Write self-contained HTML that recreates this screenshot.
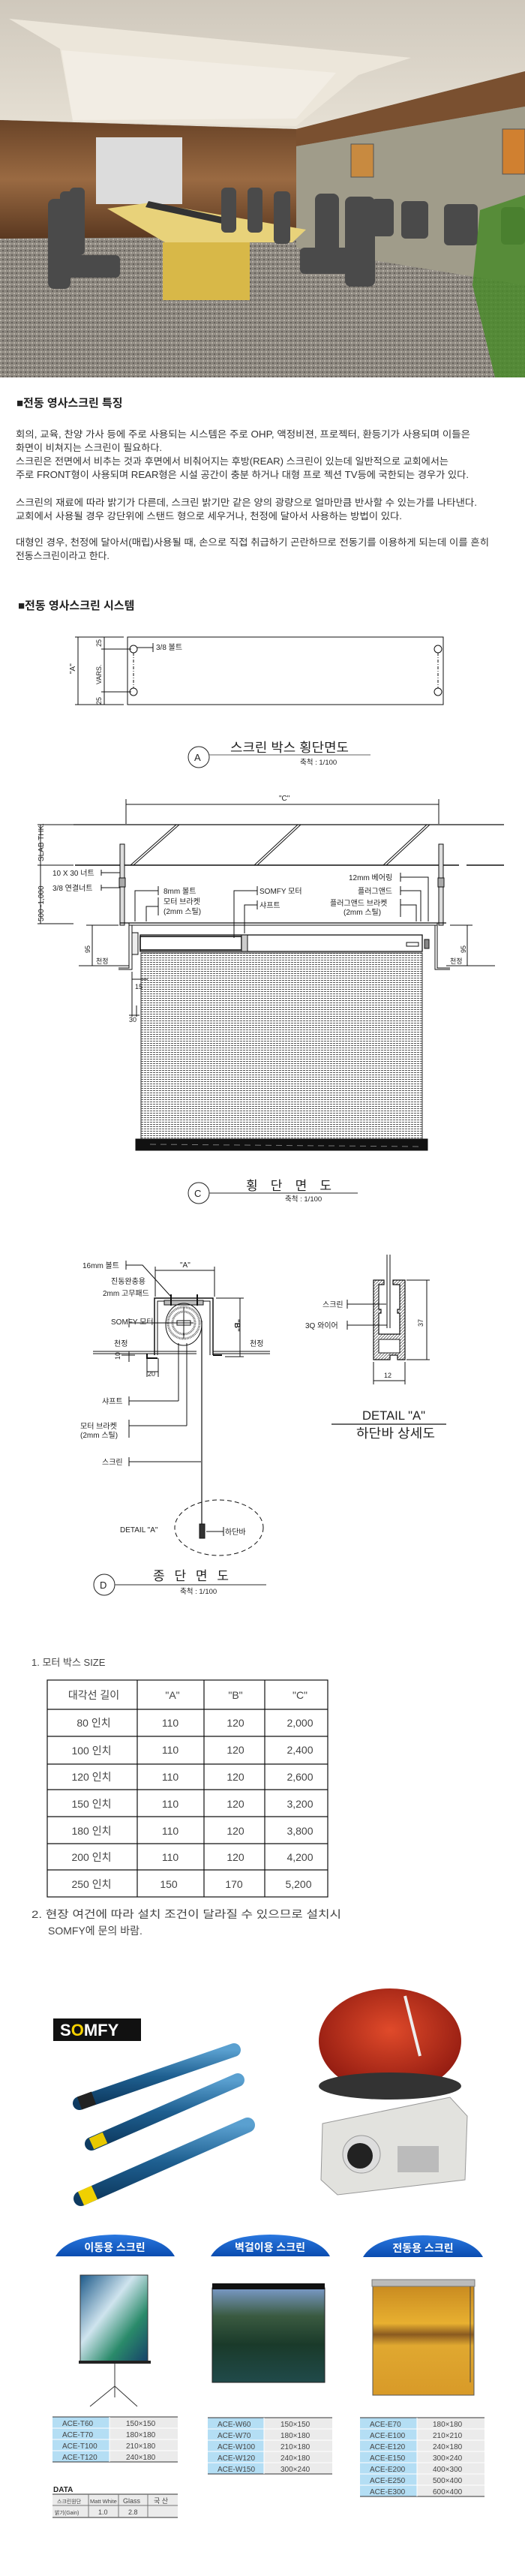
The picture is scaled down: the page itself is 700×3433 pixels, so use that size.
<!DOCTYPE html>
<html><head><meta charset="utf-8">
<style>
html,body{margin:0;padding:0;background:#fff;}
svg{display:block;}
text{font-family:"Liberation Sans","Noto Sans CJK KR",sans-serif;}
</style></head>
<body>
<svg width="700" height="3433" viewBox="0 0 700 3433" xmlns="http://www.w3.org/2000/svg">
<defs>
<pattern id="hatch" width="4" height="3" patternUnits="userSpaceOnUse">
<rect width="4" height="3" fill="#fff"/><line x1="0" y1="1.5" x2="3" y2="1.5" stroke="#555" stroke-width="1"/>
</pattern>
<pattern id="diag" width="4" height="4" patternUnits="userSpaceOnUse">
<rect width="4" height="4" fill="#fff"/><line x1="0" y1="4" x2="4" y2="0" stroke="#555" stroke-width="0.8"/>
</pattern>
<pattern id="speck" width="6" height="6" patternUnits="userSpaceOnUse">
<rect width="6" height="6" fill="#8c877f"/><circle cx="1" cy="1" r="1" fill="#c8c2b8"/><circle cx="4" cy="4" r="1" fill="#5a5550"/><circle cx="4" cy="1" r=".7" fill="#b0aaa0"/>
</pattern>
<linearGradient id="ceil" x1="0" y1="0" x2="0" y2="1"><stop offset="0" stop-color="#cfc8bc"/><stop offset="1" stop-color="#e6e0d4"/></linearGradient>
<linearGradient id="wood" x1="0" y1="0" x2="0" y2="1"><stop offset="0" stop-color="#6a4428"/><stop offset=".5" stop-color="#9a6a42"/><stop offset="1" stop-color="#5a3820"/></linearGradient>
<linearGradient id="tab" x1="0" y1="0" x2="0" y2="1"><stop offset="0" stop-color="#2a78e0"/><stop offset="1" stop-color="#0a4cb0"/></linearGradient>
<linearGradient id="wave" x1="0" y1="0" x2="1" y2="1"><stop offset="0" stop-color="#1d5a8a"/><stop offset=".4" stop-color="#cfe4ee"/><stop offset=".7" stop-color="#2a8a6a"/><stop offset="1" stop-color="#16406a"/></linearGradient>
<linearGradient id="sea" x1="0" y1="0" x2="0" y2="1"><stop offset="0" stop-color="#7a9ac8"/><stop offset=".3" stop-color="#3a5a40"/><stop offset=".6" stop-color="#1a3a2a"/><stop offset="1" stop-color="#204a4a"/></linearGradient>
<linearGradient id="field" x1="0" y1="0" x2="0" y2="1"><stop offset="0" stop-color="#c88a20"/><stop offset=".35" stop-color="#e8b030"/><stop offset=".45" stop-color="#8a5a20"/><stop offset=".55" stop-color="#e0a830"/><stop offset="1" stop-color="#d89a28"/></linearGradient>
<linearGradient id="tube" x1="0" y1="0" x2="0" y2="1"><stop offset="0" stop-color="#5aa0d0"/><stop offset=".5" stop-color="#1e5f90"/><stop offset="1" stop-color="#0e3a60"/></linearGradient>
<radialGradient id="red" cx=".5" cy=".4" r=".6"><stop offset="0" stop-color="#e04a2a"/><stop offset="1" stop-color="#901a10"/></radialGradient>
</defs>

<!-- PHOTO -->
<rect x="0" y="0" width="700" height="503" fill="url(#speck)"/>
<polygon points="0,0 700,0 700,95 395,172 0,160" fill="url(#ceil)"/>
<polygon points="12,25 548,77 478,100 395,168 97,162 80,65" fill="#ece6da"/>
<polygon points="82,67 448,97 395,158 97,160" fill="#f2ede4"/>
<polygon points="0,160 395,172 395,315 0,318" fill="url(#wood)"/>
<polygon points="395,172 700,95 700,142 395,195" fill="#7a5030"/>
<polygon points="395,195 700,142 700,380 395,330" fill="#a09c8a"/>
<rect x="128" y="183" width="115" height="89" fill="#dcdcdc"/>
<rect x="468" y="192" width="30" height="44" fill="#c88a40" stroke="#555"/>
<rect x="670" y="172" width="30" height="60" fill="#d08030" stroke="#555"/>
<polygon points="143,278 200,270 408,306 390,323 220,323" fill="#e8d27a"/>
<rect x="217" y="323" width="116" height="77" fill="#d8b848"/>
<polygon points="198,268 300,290 296,298 194,276" fill="#333"/>
<g fill="#4a4a4a">
<rect x="64" y="265" width="30" height="120" rx="8"/><rect x="70" y="340" width="90" height="30" rx="6"/>
<rect x="80" y="255" width="25" height="110" rx="6"/><rect x="93" y="250" width="20" height="90" rx="6"/>
<rect x="295" y="250" width="20" height="60" rx="6"/><rect x="330" y="250" width="20" height="60" rx="6"/>
<rect x="365" y="255" width="22" height="70" rx="6"/><rect x="420" y="258" width="32" height="100" rx="8"/>
<rect x="460" y="262" width="40" height="120" rx="8"/><rect x="400" y="330" width="90" height="35" rx="6"/>
<rect x="495" y="265" width="30" height="50" rx="6"/><rect x="535" y="268" width="36" height="50" rx="6"/>
<rect x="592" y="272" width="45" height="55" rx="6"/><rect x="668" y="276" width="32" height="50" rx="6"/>
</g>
<polygon points="640,280 700,260 700,503 660,503 630,380" fill="#4a8a2a" opacity=".85"/>

<!-- HEADINGS / TEXT -->
<text x="22" y="542" font-size="15" font-weight="bold" fill="#222">■전동 영사스크린 특징</text>
<g font-size="12.5" fill="#333">
<text x="21" y="583" textLength="606" lengthAdjust="spacingAndGlyphs">회의, 교육, 찬양 가사 등에 주로 사용되는 시스템은 주로 OHP, 액정비젼, 프로젝터, 환등기가 사용되며 이들은</text>
<text x="21" y="601" textLength="195" lengthAdjust="spacingAndGlyphs">화면이 비쳐지는 스크린이 필요하다.</text>
<text x="21" y="619" textLength="577" lengthAdjust="spacingAndGlyphs">스크린은 전면에서 비추는 것과 후면에서 비춰어지는 후방(REAR) 스크린이 있는데 일반적으로 교회에서는</text>
<text x="21" y="637" textLength="604" lengthAdjust="spacingAndGlyphs">주로 FRONT형이 사용되며 REAR형은 시설 공간이 충분 하거나 대형 프로 젝션 TV등에 국한되는 경우가 있다.</text>
<text x="21" y="674" textLength="615" lengthAdjust="spacingAndGlyphs">스크린의 재료에 따라 밝기가 다른데, 스크린 밝기만 같은 양의 광량으로 얼마만큼 반사할 수 있는가를 나타낸다.</text>
<text x="21" y="692" textLength="515" lengthAdjust="spacingAndGlyphs">교회에서 사용될 경우 강단위에 스탠드 형으로 세우거나, 천정에 달아서 사용하는 방법이 있다.</text>
<text x="21" y="727" textLength="631" lengthAdjust="spacingAndGlyphs">대형인 경우, 천정에 달아서(매립)사용될 때, 손으로 직접 취급하기 곤란하므로 전동기를 이용하게 되는데 이를 흔히</text>
<text x="21" y="745" textLength="125" lengthAdjust="spacingAndGlyphs">전동스크린이라고 한다.</text>
</g>
<text x="24" y="812" font-size="15" font-weight="bold" fill="#222">■전동 영사스크린 시스템</text>

<!-- DIAGRAM -->
<g stroke="#111" fill="none" stroke-width="1">
<!-- top plate -->
<rect x="170" y="849" width="421" height="90"/>
<line x1="100" y1="849" x2="165" y2="849"/><line x1="100" y1="939" x2="165" y2="939"/>
<line x1="104" y1="849" x2="104" y2="939"/><line x1="139" y1="849" x2="139" y2="939"/>
<line x1="135" y1="865" x2="175" y2="865"/><line x1="135" y1="922" x2="175" y2="922"/>
<circle cx="178" cy="865" r="5"/><circle cx="178" cy="922" r="5"/><circle cx="584" cy="865" r="5"/><circle cx="584" cy="922" r="5"/>
<line x1="178" y1="870" x2="178" y2="917" stroke-dasharray="4 2 1 2"/><line x1="584" y1="870" x2="584" y2="917" stroke-dasharray="4 2 1 2"/>
<line x1="183" y1="863" x2="204" y2="863"/><line x1="204" y1="857" x2="204" y2="869"/>
</g>
<g font-size="10" fill="#222">
<text x="208" y="866">3/8  볼트</text>
<text transform="translate(100,898) rotate(-90)" font-size="10">"A"</text>
<text transform="translate(135,912) rotate(-90)" font-size="9">VARS.</text>
<text transform="translate(135,862) rotate(-90)" font-size="9">25</text>
<text transform="translate(135,939) rotate(-90)" font-size="9">25</text>
</g>
<!-- title A -->
<circle cx="265" cy="1009" r="14" stroke="#222" fill="none"/>
<text x="259" y="1014" font-size="13" fill="#222">A</text>
<line x1="279" y1="1006" x2="494" y2="1006" stroke="#999" stroke-width="1.5"/>
<text x="307" y="1002" font-size="17" fill="#222" textLength="158" lengthAdjust="spacingAndGlyphs">스크린 박스 횡단면도</text>
<text x="400" y="1019" font-size="9.5" fill="#222">축척 : 1/100</text>

<!-- section C -->
<g stroke="#111" fill="none" stroke-width="1">
<line x1="168" y1="1072" x2="585" y2="1072"/><line x1="168" y1="1065" x2="168" y2="1098"/><line x1="585" y1="1065" x2="585" y2="1098"/>
<line x1="98" y1="1099" x2="672" y2="1099" stroke-width="1.3"/>
<line x1="100" y1="1153" x2="612" y2="1153" stroke-width="1.5"/><line x1="622" y1="1153" x2="672" y2="1153" stroke-width="1.5"/>
<line x1="54" y1="1099" x2="54" y2="1231"/><line x1="50" y1="1099" x2="98" y2="1099"/><line x1="50" y1="1153" x2="98" y2="1153"/><line x1="50" y1="1231" x2="98" y2="1231"/>
<line x1="174" y1="1153" x2="235" y2="1099"/><line x1="178" y1="1153" x2="239" y2="1099"/>
<line x1="339" y1="1153" x2="397" y2="1099"/><line x1="343" y1="1153" x2="401" y2="1099"/>
<line x1="511" y1="1153" x2="569" y2="1099"/><line x1="515" y1="1153" x2="573" y2="1099"/>
<!-- rods -->
<rect x="160" y="1125" width="6" height="108" fill="#ddd"/><rect x="585" y="1125" width="6" height="108" fill="#ddd"/>
<rect x="159" y="1170" width="8" height="12" fill="#aaa"/><rect x="584" y="1170" width="8" height="12" fill="#aaa"/>
<!-- box -->
<line x1="160" y1="1230" x2="595" y2="1230" stroke-width="1.3"/><line x1="172" y1="1233" x2="583" y2="1233"/>
<path d="M172 1230 V1290 H158 M176 1233 V1292 H158"/>
<path d="M583 1230 V1290 H600 M580 1233 V1292 H600"/>
<rect x="176" y="1243" width="8" height="29" fill="#eee"/>
<rect x="187" y="1246" width="376" height="22" fill="#fff" stroke-width="1.3"/>
<rect x="187" y="1248" width="135" height="18" fill="#fff" stroke-width="1.6"/>
<rect x="322" y="1246" width="8" height="22" fill="#ccc"/>
<rect x="542" y="1256" width="16" height="5"/><rect x="566" y="1252" width="6" height="12" fill="#888"/>
<rect x="188" y="1270" width="375" height="248" fill="url(#hatch)" stroke="#333"/>
<rect x="181" y="1518" width="389" height="15" fill="#111"/>
<line x1="200" y1="1525" x2="560" y2="1528" stroke="#777" stroke-dasharray="8 6"/>
<!-- leaders -->
<path d="M135 1159 V1167 M135 1163 H160"/><path d="M135 1179 V1187 M135 1183 H160"/>
<path d="M211 1181 V1193 M211 1187 H180 V1228"/><path d="M211 1196 V1220 M211 1208 H195 V1228"/>
<path d="M343 1181 V1193 M343 1187 H312 V1250"/><path d="M343 1200 V1212 M343 1206 H326 V1244"/>
<path d="M534 1163 V1175 M534 1169 H571 V1228"/><path d="M534 1181 V1193 M534 1187 H561 V1228"/><path d="M534 1198 V1222 M534 1206 H555 V1228"/>
<!-- 95 dims & ceiling -->
<line x1="105" y1="1287" x2="172" y2="1287"/><line x1="595" y1="1287" x2="660" y2="1287"/>
<line x1="123" y1="1233" x2="123" y2="1287"/><line x1="115" y1="1233" x2="158" y2="1233"/>
<line x1="623" y1="1233" x2="623" y2="1287"/><line x1="600" y1="1233" x2="630" y2="1233"/>
<line x1="176" y1="1305" x2="197" y2="1305"/><line x1="176" y1="1295" x2="176" y2="1355"/><line x1="182" y1="1340" x2="182" y2="1355"/><line x1="172" y1="1353" x2="186" y2="1353"/>
</g>
<g font-size="10" fill="#222">
<text x="372" y="1067">"C"</text>
<text transform="translate(58,1148) rotate(-90)" font-size="10">SLAB THK.</text>
<text transform="translate(58,1228) rotate(-90)" font-size="10">500~1,000</text>
<text x="70" y="1167">10 X 30 너트</text>
<text x="70" y="1187">3/8 연결너트</text>
<text x="218" y="1191">8mm 볼트</text>
<text x="218" y="1205">모터 브라켓</text><text x="218" y="1218">(2mm 스틸)</text>
<text x="346" y="1191">SOMFY  모터</text>
<text x="346" y="1210">샤프트</text>
<text x="465" y="1173">12mm 베어링</text>
<text x="477" y="1191">플러그앤드</text>
<text x="440" y="1207">플러그앤드 브라켓</text><text x="458" y="1219">(2mm 스틸)</text>
<text transform="translate(120,1270) rotate(-90)" font-size="9">95</text>
<text transform="translate(621,1270) rotate(-90)" font-size="9">95</text>
<text x="128" y="1284" font-size="9">천정</text><text x="600" y="1284" font-size="9">천정</text>
<text x="180" y="1318" font-size="9">15</text><text x="172" y="1362" font-size="9">30</text>
</g>
<!-- title C -->
<circle cx="265" cy="1590" r="14" stroke="#222" fill="none"/>
<text x="259" y="1595" font-size="13" fill="#222">C</text>
<line x1="279" y1="1590" x2="477" y2="1590" stroke="#555" stroke-width="1.2"/>
<text x="328" y="1586" font-size="17" fill="#222" textLength="114" lengthAdjust="spacing">횡 단 면 도</text>
<text x="380" y="1601" font-size="9.5" fill="#222">축척 : 1/100</text>

<!-- section D -->
<g stroke="#111" fill="none" stroke-width="1">
<line x1="207" y1="1693" x2="286" y2="1693"/><line x1="207" y1="1688" x2="207" y2="1728"/><line x1="286" y1="1688" x2="286" y2="1728"/>
<path d="M168 1680 V1692 M168 1686 H190 L228 1728"/>
<path d="M206 1806 V1730 H284 V1806" stroke-width="1.5"/>
<path d="M210 1806 V1734 H280 V1806"/>
<rect x="219" y="1733" width="52" height="6" fill="#bbb"/>
<line x1="228" y1="1725" x2="228" y2="1740" stroke-width="2"/><line x1="263" y1="1725" x2="263" y2="1740" stroke-width="2"/>
<ellipse cx="245" cy="1765" rx="24" ry="28"/>
<circle cx="245" cy="1763" r="21" stroke="#666" stroke-width="3" stroke-dasharray="1 1"/>
<circle cx="245" cy="1763" r="15" stroke="#666" stroke-width="3" stroke-dasharray="1 1"/>
<rect x="236" y="1760" width="18" height="6"/>
<line x1="172" y1="1763" x2="258" y2="1763"/><line x1="172" y1="1757" x2="172" y2="1769"/>
<line x1="245" y1="1742" x2="245" y2="1784"/>
<line x1="124" y1="1801" x2="262" y2="1801"/><line x1="124" y1="1804" x2="262" y2="1804"/>
<line x1="284" y1="1801" x2="360" y2="1801"/><line x1="284" y1="1804" x2="360" y2="1804"/>
<path d="M196 1804 V1810 H210" stroke-width="2"/><path d="M284 1806 H296" stroke-width="2"/>
<line x1="288" y1="1730" x2="325" y2="1730"/><line x1="320" y1="1730" x2="320" y2="1808"/><line x1="300" y1="1808" x2="325" y2="1808"/>
<line x1="172" y1="1801" x2="172" y2="1815"/><line x1="162" y1="1806" x2="180" y2="1806"/>
<line x1="196" y1="1810" x2="196" y2="1835"/><line x1="211" y1="1810" x2="211" y2="1835"/><line x1="196" y1="1828" x2="211" y2="1828"/>
<line x1="238" y1="1790" x2="238" y2="1867"/><line x1="249" y1="1790" x2="249" y2="1900"/>
<line x1="269" y1="1760" x2="269" y2="2050" stroke-width="1.2"/>
<path d="M172 1861 V1873 M172 1867 H238"/>
<path d="M172 1892 V1916 M172 1900 H249"/>
<path d="M172 1942 V1954 M172 1948 H268"/>
<ellipse cx="292" cy="2036" rx="59" ry="37" stroke-dasharray="6 4"/>
<rect x="266" y="2031" width="7" height="19" fill="#333"/>
<path d="M298 2035 V2047 M298 2041 H275"/>
<!-- detail A -->
<line x1="516" y1="1672" x2="516" y2="1770"/><line x1="520" y1="1672" x2="520" y2="1770"/>
<path d="M498 1706 H512 V1712 H505 V1745 H508 V1750 H505 V1778 H533 V1750 H530 V1745 H533 V1712 H524 V1706 H540 V1812 H530 V1806 H520 V1812 H498 Z" fill="url(#diag)" stroke-width="1.2"/>
<rect x="505" y="1785" width="28" height="18" fill="#fff"/>
<line x1="542" y1="1706" x2="573" y2="1706"/><line x1="542" y1="1812" x2="573" y2="1812"/><line x1="569" y1="1706" x2="569" y2="1812"/>
<line x1="498" y1="1815" x2="498" y2="1845"/><line x1="540" y1="1815" x2="540" y2="1845"/><line x1="498" y1="1840" x2="540" y2="1840"/>
<path d="M463 1732 V1744 M463 1738 H515"/><path d="M463 1760 V1772 M463 1766 H516"/>
<line x1="442" y1="1898" x2="595" y2="1898" stroke-width="1.3"/>
</g>
<g font-size="10" fill="#222">
<text x="110" y="1690">16mm 볼트</text>
<text x="240" y="1689">"A"</text>
<text x="148" y="1711">진동완충용</text><text x="137" y="1727">2mm 고무패드</text>
<text x="148" y="1765">SOMFY 모터</text>
<text transform="translate(313,1758) rotate(90)" font-size="10" font-weight="bold">"B"</text>
<text x="152" y="1794">천정</text><text x="333" y="1794">천정</text>
<text transform="translate(160,1812) rotate(-90)" font-size="9">10</text>
<text x="197" y="1834" font-size="9">20</text>
<text x="136" y="1871">샤프트</text>
<text x="107" y="1904">모터 브라켓</text><text x="107" y="1916">(2mm 스틸)</text>
<text x="136" y="1952">스크린</text>
<text x="160" y="2042">DETAIL "A"</text>
<text x="300" y="2045">하단바</text>
<text x="430" y="1742">스크린</text>
<text x="407" y="1770">3Q 와이어</text>
<text transform="translate(564,1768) rotate(-90)" font-size="9">37</text>
<text x="512" y="1836" font-size="9">12</text>
<text x="483" y="1892" font-size="17" textLength="84" lengthAdjust="spacingAndGlyphs">DETAIL "A"</text>
<text x="475" y="1916" font-size="17" textLength="105" lengthAdjust="spacingAndGlyphs">하단바 상세도</text>
</g>
<circle cx="139" cy="2112" r="14" stroke="#222" fill="none"/>
<text x="133" y="2117" font-size="13" fill="#222">D</text>
<line x1="153" y1="2112" x2="355" y2="2112" stroke="#555" stroke-width="1.2"/>
<text x="204" y="2106" font-size="17" fill="#222" textLength="101" lengthAdjust="spacing">종 단 면 도</text>
<text x="240" y="2124" font-size="9.5" fill="#222">축척 : 1/100</text>

<!-- TABLE -->
<text x="42" y="2220" font-size="13" fill="#444">1. 모터 박스 SIZE</text>
<g stroke="#111" fill="none" stroke-width="1.2">
<rect x="63" y="2239" width="374" height="289"/>
<line x1="183" y1="2239" x2="183" y2="2528"/><line x1="272" y1="2239" x2="272" y2="2528"/><line x1="353" y1="2239" x2="353" y2="2528"/>
<line x1="63" y1="2278" x2="437" y2="2278"/><line x1="63" y1="2314" x2="437" y2="2314"/><line x1="63" y1="2351" x2="437" y2="2351"/>
<line x1="63" y1="2385" x2="437" y2="2385"/><line x1="63" y1="2421" x2="437" y2="2421"/><line x1="63" y1="2457" x2="437" y2="2457"/><line x1="63" y1="2492" x2="437" y2="2492"/>
</g>
<g font-size="14" fill="#444" text-anchor="middle">
<text x="125" y="2264">대각선 길이</text><text x="230" y="2264">"A"</text><text x="314" y="2264">"B"</text><text x="400" y="2264">"C"</text>
<text x="125" y="2301">80 인치</text><text x="227" y="2301">110</text><text x="314" y="2301">120</text><text x="400" y="2301">2,000</text>
<text x="122" y="2338">100 인치</text><text x="227" y="2337">110</text><text x="314" y="2337">120</text><text x="400" y="2337">2,400</text>
<text x="122" y="2373">120 인치</text><text x="227" y="2373">110</text><text x="314" y="2373">120</text><text x="400" y="2373">2,600</text>
<text x="122" y="2409">150 인치</text><text x="227" y="2409">110</text><text x="314" y="2409">120</text><text x="400" y="2409">3,200</text>
<text x="122" y="2445">180 인치</text><text x="227" y="2445">110</text><text x="314" y="2445">120</text><text x="400" y="2445">3,800</text>
<text x="122" y="2480">200 인치</text><text x="227" y="2480">110</text><text x="314" y="2480">120</text><text x="400" y="2480">4,200</text>
<text x="122" y="2516">250 인치</text><text x="225" y="2516">150</text><text x="312" y="2516">170</text><text x="398" y="2516">5,200</text>
</g>
<text x="42" y="2556" font-size="14" fill="#444" textLength="413" lengthAdjust="spacingAndGlyphs">2. 현장 여건에 따라 설치 조건이 달라질 수 있으므로 설치시</text>
<text x="64" y="2578" font-size="14" fill="#444">SOMFY에 문의 바람.</text>

<!-- PRODUCTS -->
<rect x="71" y="2690" width="117" height="30" fill="#111"/>
<text x="80" y="2713" font-size="22" font-weight="bold" fill="#fff">S<tspan fill="#f4d000">O</tspan>MFY</text>
<ellipse cx="520" cy="2720" rx="95" ry="70" fill="url(#red)"/>
<path d="M540 2660 L560 2740" stroke="#eee" stroke-width="4"/>
<ellipse cx="520" cy="2780" rx="95" ry="18" fill="#333"/>
<path d="M430 2830 L600 2795 L623 2820 L620 2905 L450 2925 L428 2905 Z" fill="#e2e2de" stroke="#999"/>
<circle cx="482" cy="2871" r="25" fill="#ddd" stroke="#999"/><circle cx="480" cy="2873" r="17" fill="#222"/>
<rect x="530" y="2860" width="55" height="35" fill="#bbb"/>
<g stroke-linecap="round">
<line x1="106" y1="2803" x2="312" y2="2732" stroke="url(#tube)" stroke-width="18"/>
<line x1="122" y1="2857" x2="317" y2="2772" stroke="url(#tube)" stroke-width="18"/>
<line x1="108" y1="2930" x2="330" y2="2832" stroke="url(#tube)" stroke-width="20"/>
</g>
<line x1="106" y1="2803" x2="125" y2="2796" stroke="#222" stroke-width="18"/>
<line x1="122" y1="2857" x2="140" y2="2849" stroke="#e8c800" stroke-width="16"/>
<line x1="108" y1="2930" x2="126" y2="2922" stroke="#f0d000" stroke-width="20"/>

<g font-size="14" font-weight="bold" fill="#fff" text-anchor="middle">
<path d="M74 3007 Q90 2979 153 2978 Q218 2979 233 3007 Z" fill="url(#tab)"/><text x="153" y="3000">이동용 스크린</text>
<path d="M281 3007 Q297 2979 360 2978 Q425 2979 440 3007 Z" fill="url(#tab)"/><text x="360" y="3000">벽걸이용 스크린</text>
<path d="M484 3008 Q500 2980 564 2979 Q629 2980 644 3008 Z" fill="url(#tab)"/><text x="564" y="3001">전동용 스크린</text>
</g>
<rect x="107" y="3032" width="90" height="116" fill="url(#wave)" stroke="#333"/>
<rect x="105" y="3146" width="96" height="4" fill="#222"/>
<path d="M153 3150 V3195 M153 3180 L120 3207 M153 3180 L183 3207" stroke="#333" fill="none"/>
<rect x="283" y="3049" width="150" height="126" fill="url(#sea)" stroke="#222"/>
<rect x="283" y="3043" width="150" height="8" fill="#111"/>
<rect x="497" y="3045" width="135" height="147" fill="url(#field)" stroke="#555"/>
<rect x="496" y="3038" width="137" height="9" fill="#bbb" stroke="#777"/>
<line x1="627" y1="3047" x2="627" y2="3175" stroke="#444"/>

<g font-size="10" fill="#444">
<g>
<rect x="70" y="3221" width="76" height="60" fill="#b4def4"/><rect x="146" y="3221" width="91" height="60" fill="#ebebeb"/>
<line x1="70" y1="3221" x2="237" y2="3221" stroke="#333"/><line x1="70" y1="3281" x2="237" y2="3281" stroke="#333"/>
<g stroke="#fff"><line x1="70" y1="3236" x2="237" y2="3236"/><line x1="70" y1="3251" x2="237" y2="3251"/><line x1="70" y1="3266" x2="237" y2="3266"/><line x1="146" y1="3221" x2="146" y2="3281"/></g>
<text x="83" y="3233">ACE-T60</text><text x="168" y="3233">150×150</text>
<text x="83" y="3248">ACE-T70</text><text x="168" y="3248">180×180</text>
<text x="83" y="3263">ACE-T100</text><text x="168" y="3263">210×180</text>
<text x="83" y="3278">ACE-T120</text><text x="168" y="3278">240×180</text>
</g>
<g>
<rect x="277" y="3222" width="75" height="75" fill="#b4def4"/><rect x="352" y="3222" width="91" height="75" fill="#ebebeb"/>
<line x1="277" y1="3222" x2="443" y2="3222" stroke="#333"/><line x1="277" y1="3297" x2="443" y2="3297" stroke="#333"/>
<g stroke="#fff"><line x1="277" y1="3237" x2="443" y2="3237"/><line x1="277" y1="3252" x2="443" y2="3252"/><line x1="277" y1="3267" x2="443" y2="3267"/><line x1="277" y1="3282" x2="443" y2="3282"/><line x1="352" y1="3222" x2="352" y2="3297"/></g>
<text x="290" y="3234">ACE-W60</text><text x="374" y="3234">150×150</text>
<text x="290" y="3249">ACE-W70</text><text x="374" y="3249">180×180</text>
<text x="290" y="3264">ACE-W100</text><text x="374" y="3264">210×180</text>
<text x="290" y="3279">ACE-W120</text><text x="374" y="3279">240×180</text>
<text x="290" y="3294">ACE-W150</text><text x="374" y="3294">300×240</text>
</g>
<g>
<rect x="480" y="3222" width="76" height="105" fill="#b4def4"/><rect x="556" y="3222" width="90" height="105" fill="#ebebeb"/>
<line x1="480" y1="3222" x2="646" y2="3222" stroke="#333"/><line x1="480" y1="3327" x2="646" y2="3327" stroke="#333"/>
<g stroke="#fff"><line x1="480" y1="3237" x2="646" y2="3237"/><line x1="480" y1="3252" x2="646" y2="3252"/><line x1="480" y1="3267" x2="646" y2="3267"/><line x1="480" y1="3282" x2="646" y2="3282"/><line x1="480" y1="3297" x2="646" y2="3297"/><line x1="480" y1="3312" x2="646" y2="3312"/><line x1="556" y1="3222" x2="556" y2="3327"/></g>
<text x="493" y="3234">ACE-E70</text><text x="577" y="3234">180×180</text>
<text x="493" y="3249">ACE-E100</text><text x="577" y="3249">210×210</text>
<text x="493" y="3264">ACE-E120</text><text x="577" y="3264">240×180</text>
<text x="493" y="3279">ACE-E150</text><text x="577" y="3279">300×240</text>
<text x="493" y="3294">ACE-E200</text><text x="577" y="3294">400×300</text>
<text x="493" y="3309">ACE-E250</text><text x="577" y="3309">500×400</text>
<text x="493" y="3324">ACE-E300</text><text x="577" y="3324">600×400</text>
</g>
<text x="71" y="3321" font-size="10" font-weight="bold" fill="#222">DATA</text>
<rect x="70" y="3324" width="167" height="31" fill="#ebebeb"/>
<line x1="70" y1="3324" x2="237" y2="3324" stroke="#333"/><line x1="70" y1="3355" x2="237" y2="3355" stroke="#333"/>
<g stroke="#777"><line x1="70" y1="3339" x2="237" y2="3339"/><line x1="118" y1="3324" x2="118" y2="3355"/><line x1="158" y1="3324" x2="158" y2="3355"/><line x1="197" y1="3324" x2="197" y2="3355"/></g>
<text x="76" y="3336" font-size="7">스크린원단</text><text x="120" y="3336" font-size="7.5">Matt White</text><text x="164" y="3336" font-size="9">Glass</text><text x="205" y="3336" font-size="9">국  산</text>
<text x="73" y="3351" font-size="7">밝기(Gain)</text><text x="131" y="3351" font-size="9">1.0</text><text x="171" y="3351" font-size="9">2.8</text>
</g>
</svg>
</body></html>
